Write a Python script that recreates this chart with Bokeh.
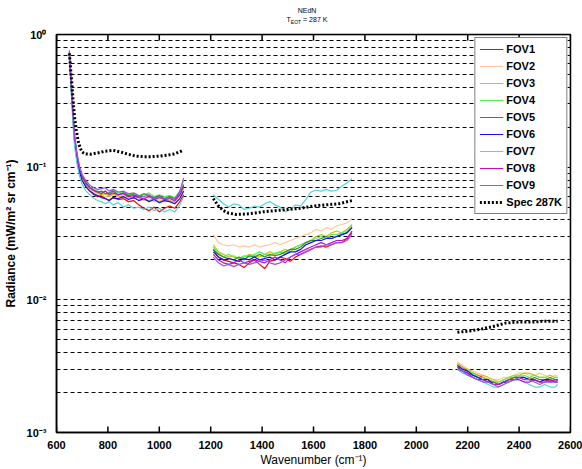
from bokeh.plotting import figure
from bokeh.models import FixedTicker, CustomJSTickFormatter, Div, BoxAnnotation
from bokeh.layouts import column
from bokeh.embed import file_html
from bokeh.resources import INLINE

nan = float("nan")

# ---- data -----------------------------------------------------------------
fov_names = ["FOV1", "FOV2", "FOV3", "FOV4", "FOV5", "FOV6", "FOV7", "FOV8", "FOV9"]
fov_colors = ["#ff0000", "#ffc89c", "#c8c800", "#55ee55", "#2f8f2f",
              "#1010ff", "#55d5d5", "#c010c0", "#9a50ee"]

# LW band
wn_lw = [650, 655, 660, 665, 670, 680, 690, 700, 715, 730, 745, 760, 775, 790, 805,
         820, 840, 860, 880, 900, 920, 940, 960, 980, 1000, 1020, 1040, 1060, 1080, 1095]
nedn_lw = [
    [.70, .47, .32, .22, .16, .115, .092, .080, .071, .066, .062, .060, .061, .058, .056,
     .059, .057, .058, .055, .056, .052, .049, .047, .050, .046, .049, .051, .049, .055, .062],
    [.72, .49, .33, .23, .165, .118, .094, .082, .073, .068, .065, .063, .062, .060, .061,
     .063, .060, .061, .058, .059, .057, .056, .058, .055, .057, .055, .056, .054, .060, .068],
    [.71, .48, .33, .23, .162, .117, .093, .081, .073, .069, .066, .064, .062, .063, .060,
     .062, .061, .059, .060, .058, .060, .057, .056, .058, .055, .057, .056, .055, .061, .070],
    [.73, .50, .34, .24, .17, .121, .097, .085, .076, .071, .068, .066, .064, .066, .063,
     .067, .064, .065, .062, .063, .061, .062, .064, .060, .062, .060, .061, .059, .066, .080],
    [.72, .49, .34, .235, .168, .12, .096, .084, .075, .070, .067, .065, .066, .063, .064,
     .066, .062, .064, .061, .062, .060, .063, .061, .059, .061, .058, .060, .058, .063, .074],
    [.71, .48, .32, .225, .16, .114, .091, .079, .071, .066, .063, .061, .059, .058, .056,
     .059, .058, .060, .057, .059, .056, .058, .055, .057, .054, .056, .055, .053, .058, .066],
    [.69, .44, .29, .20, .145, .105, .085, .074, .066, .062, .058, .056, .055, .053, .055,
     .052, .054, .050, .052, .049, .050, .048, .050, .047, .049, .046, .048, .046, .052, .060],
    [.74, .51, .35, .24, .172, .122, .098, .085, .076, .070, .067, .065, .063, .066, .062,
     .064, .062, .063, .060, .061, .059, .058, .060, .057, .059, .057, .058, .056, .062, .072],
    [.76, .53, .36, .25, .178, .127, .101, .088, .079, .073, .070, .068, .069, .070, .066,
     .068, .065, .066, .063, .064, .061, .060, .062, .058, .060, .058, .059, .057, .066, .083],
]

# MW band
wn_mw = [1210, 1230, 1250, 1270, 1290, 1310, 1330, 1350, 1370, 1390, 1410, 1430, 1450, 1470,
         1490, 1510, 1530, 1550, 1570, 1590, 1610, 1630, 1650, 1670, 1690, 1710, 1730, 1750]
nedn_mw = [
    [.024, .021, .020, .0195, .019, .0185, .0175, .019, .020, .0185, .0172, .0195, .020, .021,
     .0205, .0195, .021, .022, .023, .024, .025, .0255, .025, .026, .027, .027, .029, .033],
    [.031, .027, .026, .0255, .026, .025, .0255, .025, .026, .025, .0255, .026, .027, .026,
     .027, .028, .029, .030, .031, .032, .034, .033, .035, .034, .036, .037, .038, .041],
    [.026, .023, .022, .021, .0215, .0205, .021, .022, .0215, .021, .022, .023, .022, .023,
     .024, .023, .025, .026, .027, .028, .030, .031, .030, .032, .033, .032, .034, .037],
    [.025, .0225, .021, .022, .021, .0205, .0215, .021, .022, .023, .022, .0215, .0225, .023,
     .022, .024, .025, .026, .027, .028, .029, .030, .029, .031, .031, .032, .033, .036],
    [.024, .022, .021, .0205, .020, .021, .020, .0215, .021, .022, .021, .022, .0215, .022,
     .023, .024, .024, .025, .027, .028, .028, .029, .030, .029, .030, .031, .032, .035],
    [.023, .021, .020, .0205, .020, .0195, .0205, .020, .021, .020, .0205, .021, .020, .021,
     .022, .023, .023, .024, .026, .027, .028, .028, .029, .029, .030, .031, .032, .035],
    [.062, .057, .053, .050, .053, .052, .048, .049, .051, .050, .053, .055, .052, .050,
     .046, .048, .052, .051, .057, .065, .067, .066, .068, .066, .067, .072, .076, .082],
    [.022, .020, .019, .0185, .019, .020, .019, .0195, .020, .0195, .019, .020, .021, .020,
     .019, .021, .022, .023, .024, .025, .026, .027, .026, .027, .028, .028, .029, .032],
    [.021, .019, .018, .0185, .0178, .0185, .019, .0185, .019, .0195, .020, .019, .0185, .019,
     .020, .021, .022, .022, .023, .024, .025, .025, .026, .026, .027, .027, .028, .031],
]

# SW band
wn_sw = [2160, 2180, 2200, 2220, 2240, 2260, 2280, 2300, 2320, 2340, 2360, 2380, 2400,
         2420, 2440, 2460, 2480, 2500, 2520, 2540, 2550]
nedn_sw = [
    [.0033, .0031, .0029, .0028, .0027, .0026, .0025, .0024, .0023, .0024, .0025, .0026, .0026,
     .0025, .0026, .0025, .0024, .0025, .0024, .0025, .0025],
    [.0034, .0032, .0030, .0029, .0028, .0027, .0026, .0025, .0025, .0026, .0026, .0027, .0028,
     .0028, .0027, .0027, .0028, .0027, .0026, .0027, .0027],
    [.0033, .0031, .0030, .0028, .0027, .0027, .0026, .0025, .0024, .0025, .0026, .0027, .0027,
     .0028, .0028, .0027, .0026, .0026, .0027, .0026, .0026],
    [.0032, .0030, .0029, .0028, .0026, .0026, .0025, .0024, .0024, .0025, .0026, .0026, .0027,
     .0027, .0026, .0027, .0026, .0026, .0025, .0026, .0026],
    [.0031, .0029, .0028, .0027, .0026, .0025, .0024, .0024, .0023, .0024, .0025, .0026, .0026,
     .0026, .0025, .0026, .0025, .0025, .0026, .0025, .0025],
    [.0032, .0030, .0029, .0027, .0026, .0025, .0025, .0023, .0023, .0024, .0024, .0025, .0026,
     .0026, .0025, .0025, .0024, .0025, .0025, .0024, .0024],
    [.0030, .0028, .0027, .0026, .0025, .0024, .0023, .0022, .0022, .0023, .0024, .0025, .0025,
     .0024, .0023, .0022, .0022, .0023, .0022, .0022, .0023],
    [.0031, .0029, .0028, .0026, .0025, .0025, .0024, .0023, .0023, .0024, .0025, .0025, .0025,
     .0024, .0024, .0025, .0024, .0024, .0025, .0024, .0025],
    [.0030, .0029, .0027, .0026, .0025, .0024, .0024, .0023, .0022, .0023, .0024, .0025, .0026,
     .0025, .0025, .0024, .0023, .0024, .0024, .0024, .0024],
]

# Spec at 287 K
spec_wn_lw = [650, 655, 660, 665, 670, 677, 685, 693, 700, 710, 730, 760, 790, 820, 850,
              880, 910, 940, 970, 1000, 1030, 1060, 1090]
spec_lw = [.72, .55, .42, .31, .24, .19, .155, .138, .13, .126, .125, .128, .132, .134, .13,
           .125, .121, .12, .12, .121, .123, .126, .133]
spec_wn_mw = [1210, 1230, 1250, 1270, 1300, 1350, 1400, 1450, 1500, 1550, 1600, 1650, 1700, 1750]
spec_mw = [.058, .051, .047, .045, .044, .0445, .046, .047, .048, .049, .051, .052, .053, .056]
spec_wn_sw = [2160, 2200, 2250, 2300, 2350, 2400, 2450, 2500, 2550]
spec_sw = [.0057, .0058, .0060, .0063, .0067, .0068, .0068, .0069, .0069]

x_ticks = [600, 800, 1000, 1200, 1400, 1600, 1800, 2000, 2200, 2400, 2600]
y_decades = [1e-3, 1e-2, 1e-1, 1.0]

# ---- figure ---------------------------------------------------------------
FONT = "Liberation Sans"
X0, X1 = 600, 2600
Y0, Y1 = 1e-3, 1.0
TICK = 10 ** (6 / 133)   # ~6 px on the log axis (133 px per decade)

p = figure(width=582, height=445, x_range=(X0, X1), y_range=(Y0, Y1),
           y_axis_type="log", output_backend="svg", toolbar_location=None,
           min_border_left=50, min_border_right=12, min_border_top=10,
           min_border_bottom=36, background_fill_color="white",
           border_fill_color="white", margin=0)
p.outline_line_color = "black"
p.outline_line_width = 1.5

y_minors = [k * d for d in y_decades[:-1] for k in range(2, 10)]
y_ticker = FixedTicker(ticks=y_decades, minor_ticks=y_minors)
x_ticker = FixedTicker(ticks=x_ticks, minor_ticks=[])

pow_fmt = CustomJSTickFormatter(code="""
const e = Math.round(Math.log10(tick));
const sup = {'-': '\u207b', '0': '\u2070', '1': '\u00b9', '2': '\u00b2', '3': '\u00b3'};
return '10' + String(e).split('').map(c => sup[c]).join('');
""")

xa = p.xaxis[0]
xa.ticker = x_ticker
xa.axis_label = "Wavenumber (cm\u207b\u00b9)"
xa.axis_label_text_font = FONT
xa.axis_label_text_font_style = "normal"
xa.axis_label_text_font_size = "12px"
xa.axis_label_standoff = 1
xa.major_label_standoff = 2

ya = p.yaxis[0]
ya.ticker = y_ticker
ya.formatter = pow_fmt
ya.axis_label = "Radiance (mW/m\u00b2 sr cm\u207b\u00b9)"
ya.axis_label_text_font = FONT
ya.axis_label_text_font_style = "bold"
ya.axis_label_text_font_size = "12px"
ya.axis_label_standoff = 6
ya.major_label_standoff = 4

for ax in (xa, ya):
    ax.major_label_text_font = FONT
    ax.major_label_text_font_style = "bold"
    ax.major_label_text_font_size = "11px"
    ax.major_label_text_color = "black"
    ax.axis_label_text_color = "black"
    ax.axis_line_color = "black"
    ax.axis_line_width = 1.5
    ax.major_tick_line_color = None
    ax.minor_tick_line_color = None

p.xgrid.grid_line_color = None
p.ygrid.ticker = y_ticker
p.ygrid.grid_line_color = "black"
p.ygrid.grid_line_dash = "4 3"
p.ygrid.grid_line_width = 1
p.ygrid.minor_grid_line_color = "black"
p.ygrid.minor_grid_line_dash = "4 3"
p.ygrid.minor_grid_line_width = 1

# box around the data area
p.add_layout(BoxAnnotation(left=X0, right=X1, bottom=Y0, top=Y1,
                           fill_alpha=0, line_color="black", line_width=1.5))

# inward tick marks along the bottom and top edges
n = len(x_ticks)
p.segment(x0=x_ticks, y0=[Y0] * n, x1=x_ticks, y1=[Y0 * TICK] * n,
          line_color="black", line_width=1.5)
p.segment(x0=x_ticks, y0=[Y1 / TICK] * n, x1=x_ticks, y1=[Y1] * n,
          line_color="black", line_width=1.5)

# ---- curves ---------------------------------------------------------------
for name, color, a, b, c in zip(fov_names, fov_colors, nedn_lw, nedn_mw, nedn_sw):
    xs = wn_lw + [nan] + wn_mw + [nan] + wn_sw
    ys = a + [nan] + b + [nan] + c
    p.line(xs, ys, line_color=color, line_width=1.2, legend_label=name)

spec_x = spec_wn_lw + [nan] + spec_wn_mw + [nan] + spec_wn_sw
spec_y = spec_lw + [nan] + spec_mw + [nan] + spec_sw
p.line(spec_x, spec_y, line_color="black", line_width=3, line_dash="2 2",
       legend_label="Spec 287K")

lg = p.legend[0]
lg.location = "top_right"
lg.label_text_font = FONT
lg.label_text_font_style = "bold"
lg.label_text_font_size = "11px"
lg.label_text_color = "black"
lg.glyph_width = 24
lg.glyph_height = 14
lg.label_height = 14
lg.label_standoff = 3
lg.spacing = 3
lg.padding = 4
lg.margin = 3
lg.border_line_color = "black"
lg.border_line_width = 1
lg.background_fill_alpha = 1

# ---- heading --------------------------------------------------------------
heading = Div(
    text=('<div style="box-sizing:border-box;width:582px;padding-left:32px;'
          'text-align:center;font-family:\'Liberation Sans\';font-size:7px;'
          'line-height:9px;color:#000;padding-top:6px">NEdN<br>'
          'T<sub style="font-size:5px">EOT</sub> = 287 K</div>'),
    width=582, height=24, margin=0)

layout = column(heading, p, spacing=0, margin=0)

open("out.html", "w").write(file_html(layout, INLINE))
